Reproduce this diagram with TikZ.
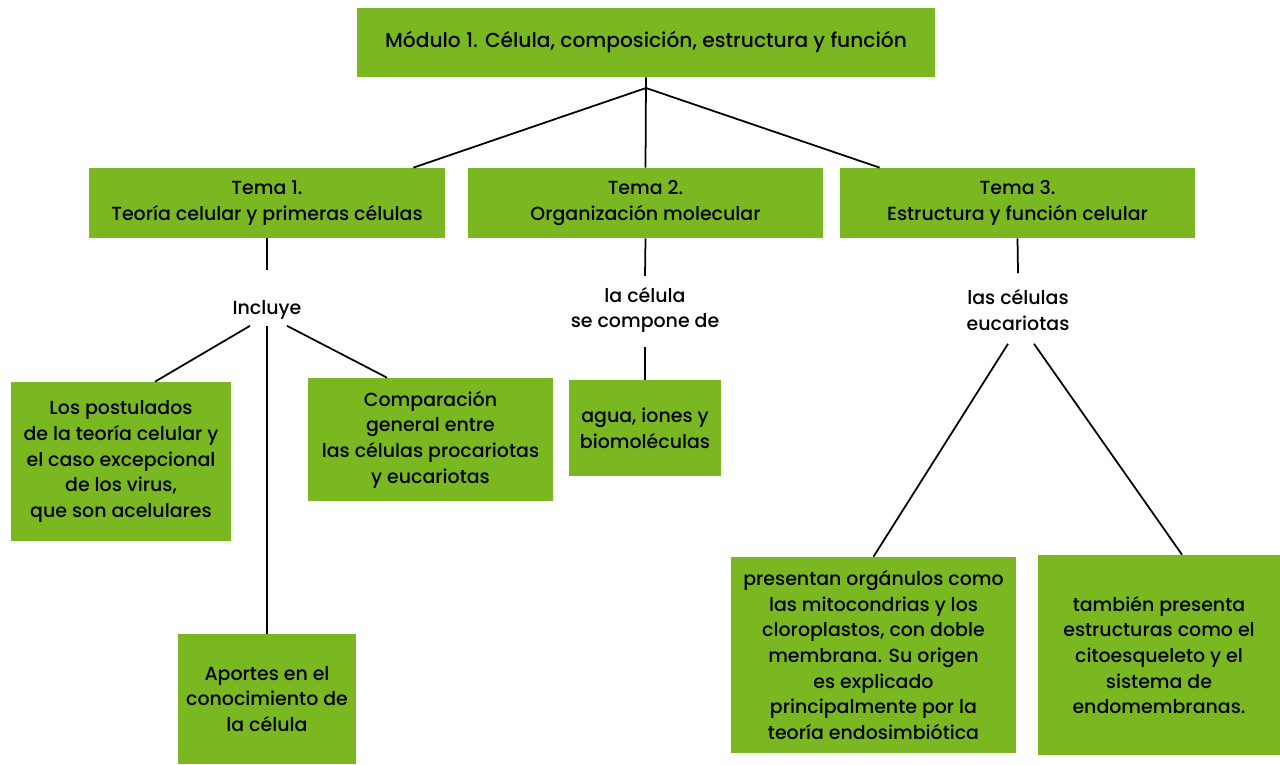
\documentclass[tikz,border=0pt]{standalone}
\usepackage{fontspec}
\setmainfont{Poppins}[UprightFont=* Medium]
\usetikzlibrary{positioning}
\definecolor{cellgreen}{RGB}{122,184,34}
\tikzset{
  box/.style={fill=cellgreen, align=center, inner sep=0pt},
  lbl/.style={align=center, inner sep=0pt},
  link/.style={black, line width=1pt}
}

\begin{document}
\begin{tikzpicture}[x=0.02cm, y=-0.02cm, font=\fontsize{10.8}{14.6}\selectfont]
\useasboundingbox (0,0) rectangle (1280,764);
\node (top) at (646,42.5) [box, minimum width=11.56cm, minimum height=1.38cm, font=\fontsize{11.5}{14.6}\selectfont] {Módulo 1. Célula, composición, estructura y función};
\node (t1) at (267,203) [box, minimum width=7.12cm, minimum height=1.4cm] {Tema 1.\\Teoría celular y primeras células};
\node (t2) at (645.5,203) [box, minimum width=7.1cm, minimum height=1.4cm] {Tema 2.\\Organización molecular};
\node (t3) at (1017.5,203) [box, minimum width=7.1cm, minimum height=1.4cm] {Tema 3.\\Estructura y función celular};
\coordinate (join) at (646,88);
\node (inc) at (267,310) [lbl] {Incluye};
\node (comp) at (645,310) [lbl] {la célula\\se compone de};
\node (euc) at (1018,310) [lbl] {las células\\eucariotas};
\node (post) at (121,461.5) [box, minimum width=4.4cm, minimum height=3.18cm] {Los postulados\\de la teoría celular y\\el caso excepcional\\de los virus,\\que son acelulares};
\node (compar) at (430.5,439.5) [box, minimum width=4.9cm, minimum height=2.46cm] {Comparación\\general entre\\las células procariotas\\y eucariotas};
\node (aport) at (267,699) [box, minimum width=3.56cm, minimum height=2.6cm] {Aportes en el\\conocimiento de\\la célula};
\node (agua) at (645,428) [box, minimum width=3.04cm, minimum height=1.92cm] {agua, iones y\\biomoléculas};
\node (organ) at (873.5,655) [box, minimum width=5.7cm, minimum height=3.92cm] {presentan orgánulos como\\las mitocondrias y los\\cloroplastos, con doble\\membrana. Su origen\\es explicado\\principalmente por la\\teoría endosimbiótica};
\node (estr) at (1159,655) [box, minimum width=4.84cm, minimum height=4cm] {también presenta\\estructuras como el\\citoesqueleto y el\\sistema de\\endomembranas.};
\draw [link] (top.south) -- (t2.north);
\draw [link] (join) -- ([xshift=-0.64cm]t1.north east);
\draw [link] (join) -- ([xshift=0.8cm]t3.north west);
\draw [link] (t1.south) -- ([yshift=0.6cm]inc.north);
\draw [link] ([xshift=-0.34cm,yshift=-0.12cm]inc.south) -- ([xshift=0.68cm]post.north);
\draw [link] ([yshift=-0.12cm]inc.south) -- (aport.north);
\draw [link] ([xshift=0.4cm,yshift=-0.12cm]inc.south) -- ([xshift=-0.87cm]compar.north);
\draw [link] (t2.south) -- ([yshift=0.22cm]comp.north);
\draw [link] ([yshift=-0.28cm]comp.south) -- (agua.north);
\draw [link] (t3.south) -- ([yshift=0.32cm]euc.north);
\draw [link] ([xshift=-0.2cm,yshift=-0.26cm]euc.south) -- (organ.north);
\draw [link] ([xshift=0.32cm,yshift=-0.26cm]euc.south) -- ([xshift=0.46cm]estr.north);
\end{tikzpicture}
\end{document}
